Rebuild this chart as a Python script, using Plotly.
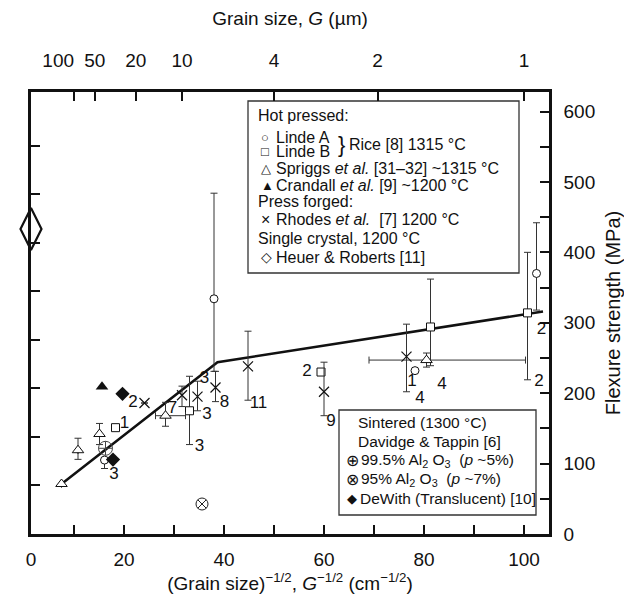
import numpy as np
import plotly.graph_objects as go

# ---------------- data (x: G^-1/2 in cm^-1/2, y: flexure strength MPa) ----------------
# Hot pressed, Linde A (Rice [8])
lindeA_x = [16.1, 38.0, 78.2, 102.5]
lindeA_y = [105, 334, 232, 370]
lindeA_up = [None, 150, None, 72]
lindeA_dn = [12, 103, None, 52]

# Hot pressed, Linde B (Rice [8])
lindeB_x = [18.3, 33.1, 59.4, 81.3, 100.7]
lindeB_y = [151, 175, 230, 294, 314]
lindeB_up = [None, 49, None, 68, 86]
lindeB_dn = [None, 48, None, 55, 95]

# Hot pressed, Spriggs et al.
spr_x = [7.5, 10.8, 15.1, 28.3, 80.5]
spr_y = [71, 119, 142, 168, 247]
spr_up = [None, 17, 15, 19, 10]
spr_dn = [None, 13, 15, 15, 10]
spr_xp = [None, None, None, 4.0, 19.8]
spr_xm = [None, None, None, 2.0, 11.5]

# Hot pressed, Crandall et al.
cra_x = [15.6]
cra_y = [209]

# Press forged, Rhodes et al.
rho_x = [24.1, 31.6, 34.7, 38.3, 44.8, 60.0, 76.5]
rho_y = [186, 197, 195, 208, 238, 202, 252]
rho_up = [None, 13, 22, 23, 50, 42, 46]
rho_dn = [None, 16, 20, 20, 48, 34, 50]

# Single crystal, Heuer & Roberts
sc_x = [1.4]
sc_y = [433]

# Sintered, Davidge & Tappin
s995_x = [16.3]
s995_y = [121.7]
s95_x = [35.6]
s95_y = [42.6]

# DeWith (translucent)
dw_x = [17.8, 19.7]
dw_y = [105.7, 199]

# fitted line
fit_x = [7.5, 38.7, 103.8]
fit_y = [71, 244, 316]

# number-of-specimen labels
lab_text = ["3", "1", "2", "7", "3", "3", "3", "8", "11", "2", "9", "1", "4", "4", "2", "2"]
lab_x = [18.0, 20.1, 21.8, 29.7, 36.1, 36.6, 35.1, 40.1, 46.9, 56.6, 61.4, 77.6, 79.2, 83.6, 103.5, 103.0]
lab_y = [84.8, 156, 187, 178.5, 221, 169, 124, 187, 184.6, 230, 160, 216, 192, 212, 290, 216]

# axis ticks
bottom_ticks = [10, 20, 30, 40, 50, 60, 70, 80, 90, 100]
bottom_labels = ["", "20", "", "40", "", "60", "", "80", "", "100"]
grain_um = [100, 50, 20, 10, 4, 2, 1]
grain_labels = ["100\u00a0\u00a0\u00a0\u00a0\u00a0\u00a0", "50", "20", "10", "4", "2", "1"]
mpa_ticks = list(range(0, 601, 50))
mpa_labels = [str(v) if v % 100 == 0 else "" for v in mpa_ticks]
kpsi_ticks = [10, 20, 30, 40, 50, 60, 70, 80]

# ---------------- figure ----------------
FONT = "Liberation Sans, Arial, Helvetica, sans-serif"
XMIN, XMAX = 1.4, 105.0
YMIN, YMAX = 0, 627.7
BLACK = "#111111"

fig = go.Figure()

fig.add_trace(go.Scatter(x=fit_x, y=fit_y, mode="lines",
                         line=dict(color=BLACK, width=2.5), hoverinfo="skip"))

def err(arr_up, arr_dn):
    return dict(type="data", symmetric=False, array=arr_up, arrayminus=arr_dn,
                color="#333333", thickness=1, width=3.5)

fig.add_trace(go.Scatter(x=lindeA_x, y=lindeA_y, mode="markers", name="Linde A",
                         marker=dict(symbol="circle", size=8, color="white",
                                     line=dict(color=BLACK, width=1)),
                         error_y=err(lindeA_up, lindeA_dn)))
fig.add_trace(go.Scatter(x=lindeB_x, y=lindeB_y, mode="markers", name="Linde B",
                         marker=dict(symbol="square", size=8, color="white",
                                     line=dict(color=BLACK, width=1)),
                         error_y=err(lindeB_up, lindeB_dn)))
fig.add_trace(go.Scatter(x=spr_x, y=spr_y, mode="markers", name="Spriggs",
                         marker=dict(symbol="triangle-up", size=10, color="white",
                                     line=dict(color=BLACK, width=1)),
                         error_y=err(spr_up, spr_dn),
                         error_x=err(spr_xp, spr_xm)))
fig.add_trace(go.Scatter(x=cra_x, y=cra_y, mode="markers", name="Crandall",
                         marker=dict(symbol="triangle-up", size=11, color=BLACK)))
fig.add_trace(go.Scatter(x=rho_x, y=rho_y, mode="markers", name="Rhodes",
                         marker=dict(symbol="x-thin", size=10, color=BLACK,
                                     line=dict(color=BLACK, width=1.2)),
                         error_y=err(rho_up, rho_dn)))
fig.add_trace(go.Scatter(x=sc_x, y=sc_y, mode="markers", name="Heuer",
                         marker=dict(symbol="diamond-tall", size=30, color="white",
                                     line=dict(color=BLACK, width=2.2)),
                         cliponaxis=False))
fig.add_trace(go.Scatter(x=s995_x, y=s995_y, mode="markers", name="99.5%",
                         marker=dict(symbol="circle-cross-open", size=14, color="#444444",
                                     line=dict(width=1))))
fig.add_trace(go.Scatter(x=s95_x, y=s95_y, mode="markers", name="95%",
                         marker=dict(symbol="circle-x-open", size=12, color="#222222",
                                     line=dict(width=1))))
fig.add_trace(go.Scatter(x=dw_x, y=dw_y, mode="markers", name="DeWith",
                         marker=dict(symbol="diamond", size=11, color=BLACK)))

fig.add_trace(go.Scatter(x=lab_x, y=lab_y, mode="text", text=lab_text,
                         textfont=dict(family=FONT, size=17, color=BLACK),
                         textposition="middle center", hoverinfo="skip"))

# invisible trace carrying the secondary axes
fig.add_trace(go.Scatter(x=[XMIN], y=[YMIN], xaxis="x2", yaxis="y2", mode="markers",
                         marker=dict(opacity=0), hoverinfo="skip"))

axis_common = dict(showline=True, linecolor=BLACK, linewidth=2.5, showgrid=False,
                   zeroline=False, ticks="inside", ticklen=9, tickwidth=2,
                   tickcolor=BLACK, automargin=False, tickangle=0,
                   tickfont=dict(family=FONT, size=19, color=BLACK))

fig.update_layout(
    width=632, height=594,
    margin=dict(l=23, r=91, t=84, b=68),
    paper_bgcolor="white", plot_bgcolor="white",
    showlegend=False,
    font=dict(family=FONT, color=BLACK),
    xaxis=dict(range=[XMIN, XMAX], tickvals=[XMIN] + bottom_ticks,
               ticktext=["0"] + bottom_labels, ticklabelstandoff=6,
               title=dict(text="(Grain size)<sup>\u22121/2</sup>, <i>G</i><sup>\u22121/2</sup> (cm<sup>\u22121/2</sup>)",
                          font=dict(family=FONT, size=19), standoff=5),
               **axis_common),
    xaxis2=dict(overlaying="x", side="top", range=[XMIN, XMAX],
                tickvals=[100 / np.sqrt(g) for g in grain_um],
                ticktext=grain_labels, ticklabelstandoff=15,
                title=dict(text="Grain size, <i>G</i> (\u00b5m)",
                           font=dict(family=FONT, size=19), standoff=23),
                **axis_common),
    yaxis=dict(range=[YMIN, YMAX], tickvals=[k * 6.895 for k in kpsi_ticks],
               showticklabels=False, **axis_common),
    yaxis2=dict(overlaying="y", side="right", range=[YMIN, YMAX],
                tickvals=mpa_ticks, ticktext=mpa_labels, ticklabelstandoff=8,
                title=dict(text="Flexure strength (MPa)",
                           font=dict(family=FONT, size=20), standoff=12),
                **axis_common),
)

# ---------------- in-plot legend boxes (pixel placement helpers) ----------------
PL, PR, PT, PB = 23, 541, 84, 526
def px(x):
    return (x - PL) / (PR - PL)
def py(y):
    return (PB - y) / (PB - PT)

box_line = dict(color="#333333", width=1.3)
fig.add_shape(type="rect", xref="paper", yref="paper",
              x0=px(240), x1=px(511), y0=py(265), y1=py(93),
              line=box_line, fillcolor="white", layer="below")
fig.add_shape(type="rect", xref="paper", yref="paper",
              x0=px(331), x1=px(528), y0=py(507), y1=py(402),
              line=box_line, fillcolor="white", layer="below")

LEG = 16
def note(x, y, text, size=LEG, anchor="left"):
    fig.add_annotation(xref="paper", yref="paper", x=px(x), y=py(y), text=text,
                       showarrow=False, xanchor=anchor, yanchor="middle",
                       font=dict(family=FONT, size=size, color=BLACK))

note(248, 107, "Hot pressed:")
note(251, 129, "\u25cb", size=13)
note(266, 129, "Linde A")
note(251, 143, "\u25a1", size=13)
note(266, 143, "Linde B")
note(328, 136, "}", size=22)
note(339, 136, "Rice [8] 1315 \u00b0C")
note(251, 160, "\u25b3", size=13)
note(266, 160, "Spriggs <i>et al.</i> [31\u201332] ~1315 \u00b0C")
note(251, 177, "\u25b2", size=13)
note(266, 177, "Crandall <i>et al.</i> [9] ~1200 \u00b0C")
note(248, 193, "Press forged:")
note(251, 211, "\u00d7", size=16)
note(266, 211, "Rhodes <i>et al.</i>  [7] 1200 \u00b0C")
note(248, 230, "Single crystal, 1200 \u00b0C")
note(251, 249, "\u25c7", size=14)
note(266, 249, "Heuer & Roberts [11]")

note(348, 414, "Sintered (1300 \u00b0C)", size=15.5)
note(348, 433, "Davidge & Tappin [6]", size=15.5)
note(336, 452, "\u2295", size=16)
note(351, 452, "99.5% Al<sub>2</sub> O<sub>3</sub>  (<i>p</i> ~5%)", size=15.5)
note(336, 471, "\u2297", size=16)
note(351, 471, "95% Al<sub>2</sub> O<sub>3</sub>  (<i>p</i> ~7%)", size=15.5)
note(337, 490, "\u25c6", size=13)
note(350, 490, "DeWith (Translucent) [10]", size=15.5)

fig.write_html("out.html")
